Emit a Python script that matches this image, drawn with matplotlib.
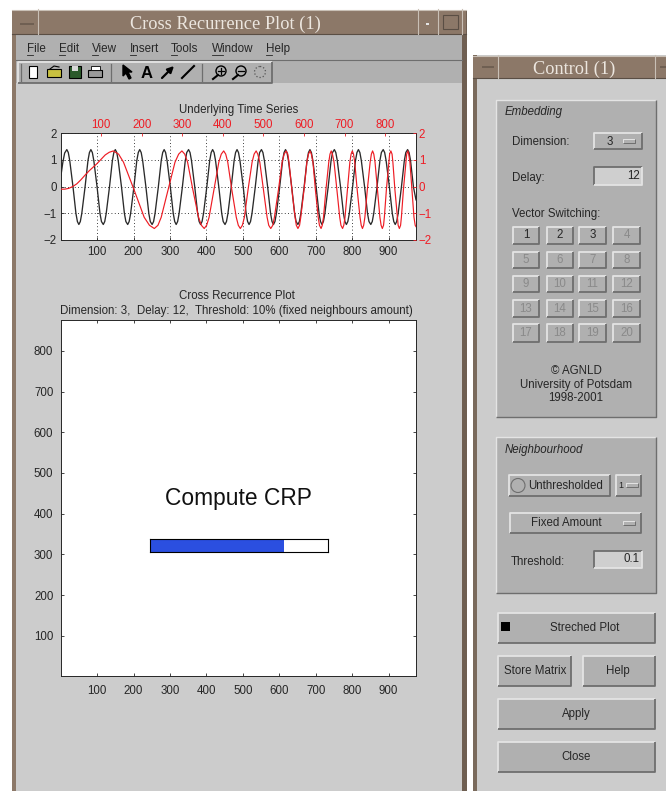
import matplotlib

matplotlib.use("Agg")
import matplotlib.patches as patches
import matplotlib.pyplot as plt

W, H = 666, 791

# time series
black_x = [1, 6, 11,
           17, 21, 25, 34, 42, 46, 50, 54, 58, 67, 75, 79,
           83, 87, 91, 100, 108, 112, 117, 121, 125, 134, 142, 146,
           150, 154, 158, 167, 175, 179, 184, 188, 192, 201, 209, 213,
           217, 221, 225, 234, 242, 246, 251, 255, 259, 268, 276, 280,
           284, 288, 292, 301, 309, 313, 317, 321, 325, 334, 342, 346,
           351, 355, 359, 368, 376, 380, 384, 388, 392, 401, 409, 413,
           417, 421, 425, 434, 442, 446, 451, 455, 459, 468, 476, 480,
           484, 488, 492, 501, 509, 513, 517, 521, 525, 534, 542, 546,
           551, 555, 559, 568, 576, 580, 584, 588, 592, 601, 609, 613,
           617, 621, 625, 634, 642, 646, 651, 655, 659, 668, 676, 680,
           684, 688, 692, 701, 709, 713, 717, 721, 725, 734, 742, 746,
           751, 755, 759, 768, 776, 780, 784, 788, 792, 801, 809, 813,
           817, 821, 825, 834, 842, 846, 851, 855, 859, 868, 876, 880,
           885, 889, 893, 902, 910, 914, 918, 922, 926, 935, 943, 947,
           952, 956, 960, 968, 975]
black_y = [0.42, 0.90, 1.25,
           1.38, 1.27, 0.97, -0.02, -1.01, -1.31, -1.42, -1.31, -1.01, -0.02, 0.97, 1.27,
           1.38, 1.27, 0.97, -0.02, -1.01, -1.31, -1.42, -1.31, -1.01, -0.02, 0.97, 1.27,
           1.38, 1.27, 0.97, -0.02, -1.01, -1.31, -1.42, -1.31, -1.01, -0.02, 0.97, 1.27,
           1.38, 1.27, 0.97, -0.02, -1.01, -1.31, -1.42, -1.31, -1.01, -0.02, 0.97, 1.27,
           1.38, 1.27, 0.97, -0.02, -1.01, -1.31, -1.42, -1.31, -1.01, -0.02, 0.97, 1.27,
           1.38, 1.27, 0.97, -0.02, -1.01, -1.31, -1.42, -1.31, -1.01, -0.02, 0.97, 1.27,
           1.38, 1.27, 0.97, -0.02, -1.01, -1.31, -1.42, -1.31, -1.01, -0.02, 0.97, 1.27,
           1.38, 1.27, 0.97, -0.02, -1.01, -1.31, -1.42, -1.31, -1.01, -0.02, 0.97, 1.27,
           1.38, 1.27, 0.97, -0.02, -1.01, -1.31, -1.42, -1.31, -1.01, -0.02, 0.97, 1.27,
           1.38, 1.27, 0.97, -0.02, -1.01, -1.31, -1.42, -1.31, -1.01, -0.02, 0.97, 1.27,
           1.38, 1.27, 0.97, -0.02, -1.01, -1.31, -1.42, -1.31, -1.01, -0.02, 0.97, 1.27,
           1.38, 1.27, 0.97, -0.02, -1.01, -1.31, -1.42, -1.31, -1.01, -0.02, 0.97, 1.27,
           1.38, 1.27, 0.97, -0.02, -1.01, -1.31, -1.42, -1.31, -1.01, -0.02, 0.97, 1.27,
           1.38, 1.27, 0.97, -0.02, -1.01, -1.31, -1.42, -1.31, -1.01, -0.02, 0.97, 1.27,
           1.38, 1.27, 0.97, -0.02, -0.50]

red_x = [1, 10, 20, 30, 40, 50, 60, 70, 80, 90, 100, 110, 120,
         130, 143, 155, 181, 206, 219, 231, 240, 248, 265, 282, 291,
         299, 306, 313, 326, 340, 347, 354, 360, 366, 378, 390, 396,
         402, 407, 412, 422, 433, 438, 443, 448, 453, 462, 472, 477,
         482, 486, 491, 500, 509, 513, 518, 523, 527, 537, 546, 551,
         556, 560, 563, 570, 578, 581, 585, 589, 592, 600, 607, 611,
         615, 618, 622, 628, 635, 638, 642, 645, 648, 654, 661, 664,
         667, 670, 674, 681, 688, 691, 695, 698, 701, 707, 713, 716,
         719, 722, 725, 731, 738, 741, 744, 747, 750, 756, 763, 766,
         769, 772, 775, 781, 787, 790, 793, 796, 798, 803, 809, 811,
         814, 817, 819, 824, 830, 832, 835, 838, 840, 845, 851, 853,
         856, 858, 861, 866, 871, 874, 876]
red_y = [-0.10, -0.10, -0.07, 0.00, 0.10, 0.25, 0.42, 0.58, 0.72, 0.86, 1.02, 1.18, 1.28,
         1.33, 1.21, 0.91, -0.12, -1.15, -1.45, -1.57, -1.45, -1.15, -0.12, 0.91, 1.21,
         1.33, 1.21, 0.91, -0.12, -1.15, -1.45, -1.57, -1.45, -1.15, -0.12, 0.91, 1.21,
         1.33, 1.21, 0.91, -0.12, -1.15, -1.45, -1.57, -1.45, -1.15, -0.12, 0.91, 1.21,
         1.33, 1.21, 0.91, -0.12, -1.15, -1.45, -1.57, -1.45, -1.15, -0.12, 0.91, 1.21,
         1.33, 1.21, 0.91, -0.12, -1.15, -1.45, -1.57, -1.45, -1.15, -0.12, 0.91, 1.21,
         1.33, 1.21, 0.91, -0.12, -1.15, -1.45, -1.57, -1.45, -1.15, -0.12, 0.91, 1.21,
         1.33, 1.21, 0.91, -0.12, -1.15, -1.45, -1.57, -1.45, -1.15, -0.12, 0.91, 1.21,
         1.33, 1.21, 0.91, -0.12, -1.15, -1.45, -1.57, -1.45, -1.15, -0.12, 0.91, 1.21,
         1.33, 1.21, 0.91, -0.12, -1.15, -1.45, -1.57, -1.45, -1.15, -0.12, 0.91, 1.21,
         1.33, 1.21, 0.91, -0.12, -1.15, -1.45, -1.57, -1.45, -1.15, -0.12, 0.91, 1.21,
         1.33, 1.21, 0.91, -0.12, -1.15, -1.45, -1.50]

x_ticks = [100, 200, 300, 400, 500, 600, 700, 800, 900]
red_x_ticks = [100, 200, 300, 400, 500, 600, 700, 800]
crp_y_ticks = [100, 200, 300, 400, 500, 600, 700, 800]
ts_y_ticks = [-2, -1, 0, 1, 2]
progress = 0.75

menu_names = ["File", "Edit", "View", "Insert", "Tools", "Window", "Help"]
vector_labels = [str(i) for i in range(1, 21)]

BG = "#cccccc"
PANEL = "#b0b0b0"
TITLE_BAR = "#8c7868"
FRAME_LIGHT = "#c9c0b6"
FRAME_DARK = "#5a4e44"
INK = "#262626"
FADED = "#8a8a8a"
LIGHT = "#e4e4e4"
DARK = "#6e6e6e"
FS = 8.3

plt.rcParams["font.family"] = ["Liberation Sans", "DejaVu Sans"]

fig = plt.figure(figsize=(W / 100, H / 100), dpi=100, facecolor="white")
gui = fig.add_axes([0, 0, 1, 1])
gui.set_xlim(0, W)
gui.set_ylim(H, 0)
gui.axis("off")


def px_axes(left, top, right, bottom):
    return fig.add_axes([left / W, 1 - bottom / H, (right - left) / W, (bottom - top) / H])


def box(x0, y0, x1, y1, face, edge="none", lw=0.0, z=1):
    gui.add_patch(patches.Rectangle((x0, y0), x1 - x0, y1 - y0, facecolor=face,
                                    edgecolor=edge, linewidth=lw, zorder=z))


def bevel(x0, y0, x1, y1, face=PANEL, raised=True, lw=1.3):
    top, low = (LIGHT, DARK) if raised else (DARK, LIGHT)
    box(x0, y0, x1, y1, face, z=2)
    gui.plot([x0, x0, x1], [y1, y0, y0], color=top, lw=lw, zorder=3, solid_capstyle="butt")
    gui.plot([x0, x1, x1], [y1, y1, y0], color=low, lw=lw, zorder=3, solid_capstyle="butt")


def label(x, y, s, size=FS, ha="left", color=INK, **kw):
    gui.text(x, y + 1, s, fontsize=size, ha=ha, va="center", color=color, zorder=5, **kw)


def title_bar(x0, x1, y0, y1, split_left, splits_right, s, cx):
    box(x0, y0, x1, y1, TITLE_BAR, z=2)
    gui.plot([x0, x1], [y0, y0], color=FRAME_LIGHT, lw=0.8, zorder=3)
    gui.plot([x0, x1], [y1, y1], color=FRAME_DARK, lw=0.8, zorder=3)
    for sx in [split_left] + splits_right:
        gui.plot([sx, sx], [y0 - 1, y1], color=FRAME_LIGHT, lw=0.8, zorder=3)
    gui.text(cx, (y0 + y1) / 2 + 2.5, s, fontsize=13.2, family="Liberation Serif",
             color="#ece6df", ha="center", va="center", zorder=5)


def draw_icons(y=72):
    # new, open, save, print
    box(29, y - 6, 37, y + 6, "white", "black", 0.8, z=4)
    box(47, y - 3, 61, y + 5, "#c8c040", "black", 0.8, z=4)
    gui.plot([50, 54, 59], [y - 3, y - 6, y - 5], color="black", lw=0.8, zorder=4)
    box(69, y - 6, 81, y + 6, "#2b5a2b", "black", 0.8, z=4)
    box(72, y - 6, 78, y - 1, "#d8d8d8", z=5)
    box(88, y - 2, 102, y + 5, "#9a9a9a", "black", 0.8, z=4)
    box(91, y - 6, 100, y - 2, "white", "black", 0.6, z=5)
    # pointer, text, arrow, line
    gui.add_patch(patches.Polygon([(123, y - 7), (123, y + 4), (126, y + 1), (129, y + 7),
                                   (131, y + 6), (128, y), (132, y)], color="black", zorder=4))
    gui.text(147, y + 1, "A", fontsize=12, fontweight="bold", ha="center", va="center", color="black", zorder=4)
    gui.annotate("", xy=(174, y - 6), xytext=(162, y + 6), zorder=4,
                 arrowprops=dict(arrowstyle="-|>", color="black", lw=1.6, mutation_scale=9,
                                 shrinkA=0, shrinkB=0))
    gui.plot([182, 194], [y + 6, y - 6], color="black", lw=1.5, zorder=4)
    # zoom in, zoom out, rotate
    for cx, sign in [(221, "+"), (241, "-")]:
        gui.add_patch(patches.Ellipse((cx, y - 1), 10, 10, facecolor=PANEL, edgecolor="black",
                                      linewidth=1.0, zorder=4))
        gui.plot([cx - 3, cx - 8], [y + 3, y + 7], color="black", lw=1.5, zorder=4)
        gui.plot([cx - 3, cx + 3], [y - 1, y - 1], color="black", lw=0.9, zorder=5)
        if sign == "+":
            gui.plot([cx, cx], [y - 4, y + 2], color="black", lw=0.9, zorder=5)
    gui.add_patch(patches.Ellipse((260, y), 11, 11, facecolor="none", edgecolor="#555555",
                                  linewidth=0.9, linestyle=":", zorder=4))


# left window
box(12, 10, 467, H + 2, BG, z=0)
box(12, 10, 16, H + 2, "#8c7868", z=1)
box(462, 10, 467, H + 2, "#6f5f52", z=1)
title_bar(12, 466, 10, 34, 38, [418, 438, 462], "Cross Recurrence Plot (1)", 225)
box(20, 23, 34, 25, "#6f5f52", z=4)
box(426, 23, 429, 25, LIGHT, z=4)
box(443, 15, 458, 29, TITLE_BAR, FRAME_DARK, 0.8, z=4)
box(16, 35, 462, 83, PANEL, z=1)
gui.plot([16, 462], [60, 60], color=DARK, lw=0.8, zorder=2)
bevel(18, 62, 272, 83, PANEL)
for sep_x in [21, 111, 202]:
    gui.plot([sep_x, sep_x], [64, 81], color=DARK, lw=0.9, zorder=4)
draw_icons()

menu_x = [27, 59, 92, 130, 171, 212, 266]
for mx, name in zip(menu_x, menu_names):
    label(mx, 48, name, size=8.4)
    under = 11 if name == "Window" else 6
    gui.plot([mx, mx + under], [55, 55], color=INK, lw=0.6, zorder=5)

# time series axes
ax = px_axes(61, 133, 416, 240)
ax.plot(black_x, black_y, color="#2a2a2a", lw=0.95)
ax.set_xlim(1, 975)
ax.set_ylim(-2, 2)
ax.set_xticks(x_ticks)
ax.set_yticks(ts_y_ticks)
ax.tick_params(direction="in", length=2.2, width=0.6, labelsize=8.3, colors=INK)
ax.tick_params(axis="x", pad=4)
ax.tick_params(axis="y", pad=3)
ax.grid(True, linestyle=":", color="black", linewidth=0.6, dashes=(1, 3))
ax.set_title("Underlying Time Series", fontsize=FS, color=INK, y=1.0, pad=14.5)

ax_red = px_axes(61, 133, 416, 240)
ax_red.patch.set_visible(False)
ax_red.plot(red_x, red_y, color="#ee1c24", lw=0.85)
ax_red.set_xlim(1, 876)
ax_red.set_ylim(-2, 2)
ax_red.set_xticks(red_x_ticks)
ax_red.set_yticks(ts_y_ticks)
ax_red.xaxis.tick_top()
ax_red.yaxis.tick_right()
ax_red.tick_params(direction="in", length=2.2, width=0.6, labelsize=8.3, colors="#ee1c24")
ax_red.tick_params(axis="x", pad=1.5)
ax_red.tick_params(axis="y", pad=2)
for sp in ax_red.spines.values():
    sp.set_visible(False)
for sp in ax.spines.values():
    sp.set_linewidth(0.7)
    sp.set_color(INK)

# recurrence axes, still empty while computing
ax_crp = px_axes(61, 320, 416, 676)
ax_crp.set_xlim(1, 975)
ax_crp.set_ylim(1, 876)
ax_crp.set_xticks(x_ticks)
ax_crp.set_yticks(crp_y_ticks)
ax_crp.tick_params(direction="in", length=2.2, width=0.6, labelsize=8.3, colors=INK, top=True, right=True)
ax_crp.tick_params(axis="x", pad=6.5)
ax_crp.tick_params(axis="y", pad=5.5)
ax_crp.set_title("Cross Recurrence Plot\nDimension: 3,  Delay: 12,  Threshold: 10% (fixed neighbours amount)",
                 fontsize=FS, color=INK, pad=4.5, linespacing=1.35, x=0.495)
for sp in ax_crp.spines.values():
    sp.set_linewidth(0.7)
    sp.set_color(INK)
ax_crp.text(0.5, 0.5, "Compute CRP", transform=ax_crp.transAxes, fontsize=16.4, ha="center",
            va="center", color="#111111")

ax_prog = px_axes(150, 539, 328, 552)
ax_prog.barh([0], [progress], height=1, color="#2b4fe0")
ax_prog.set_xlim(0, 1)
ax_prog.set_ylim(-0.5, 0.5)
ax_prog.set_xticks([])
ax_prog.set_yticks([])
for sp in ax_prog.spines.values():
    sp.set_linewidth(0.8)

# control window
box(473, 55, W + 2, H + 2, BG, z=0)
box(473, 55, 477, H + 2, "#7a6a5c", z=1)
title_bar(473, W + 2, 56, 78, 498, [655], "Control (1)", 574)
box(482, 66, 494, 68, "#6f5f52", z=4)
box(660, 66, W + 2, 68, "#6f5f52", z=4)

bevel(496, 100, 656, 417, PANEL, lw=1.0)
label(505, 111, "Embedding", style="italic")
label(512, 141, "Dimension:")
bevel(594, 133, 642, 149)
label(610, 141, "3", ha="center")
bevel(623, 139, 635, 143, lw=0.7)
label(512, 177, "Delay:")
bevel(594, 167, 642, 185, face="#cfcfcf", raised=False)
label(640, 175, "12", ha="right")
label(512, 213, "Vector Switching:")

btn_cols = [(513, 539), (547, 573), (579, 606), (613, 640)]
btn_rows = [(227, 244), (252, 268), (276, 292), (300, 317), (324, 342)]
for i, txt in enumerate(vector_labels):
    x0, x1 = btn_cols[i % 4]
    y0, y1 = btn_rows[i // 4]
    bevel(x0, y0, x1, y1)
    label((x0 + x1) / 2, (y0 + y1) / 2 - 1, txt, ha="center", color=INK if i < 3 else FADED)

label(576, 370, "© AGNLD", ha="center")
label(576, 384, "University of Potsdam", ha="center")
label(576, 397, "1998-2001", ha="center")

bevel(496, 437, 656, 593, PANEL, lw=1.0)
label(505, 449, "Neighbourhood", style="italic")
bevel(509, 475, 610, 496)
gui.add_patch(patches.Ellipse((518, 485.5), 14, 14, facecolor=PANEL, edgecolor=DARK, linewidth=0.8, zorder=4))
label(566, 485, "Unthresholded", ha="center")
bevel(616, 475, 641, 496)
label(621, 485, "1", ha="center", size=6.5)
bevel(626, 483, 638, 487, lw=0.7)
bevel(510, 513, 641, 533)
label(566, 522, "Fixed Amount", ha="center")
bevel(623, 521, 635, 525, lw=0.7)
label(511, 561, "Threshold:")
bevel(594, 551, 642, 568, face="#cfcfcf", raised=False)
label(640, 558, "0.1", ha="right")

bevel(498, 613, 655, 643)
box(501, 622, 510, 631, "black", z=4)
label(585, 627, "Streched Plot", ha="center")
bevel(498, 656, 571, 686)
label(535, 670, "Store Matrix", ha="center")
bevel(583, 656, 655, 686)
label(618, 670, "Help", ha="center")
bevel(498, 699, 655, 729)
label(576, 713, "Apply", ha="center")
bevel(498, 742, 655, 772)
label(576, 756, "Close", ha="center")

fig.savefig("out.png", dpi=100)
